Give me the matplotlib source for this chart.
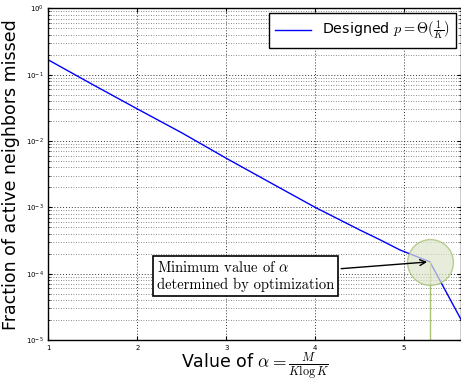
import matplotlib
matplotlib.use("Agg")
import matplotlib.pyplot as plt
from matplotlib.ticker import LogLocator, NullFormatter

alpha = [1.0, 1.5, 2.0, 2.5, 3.0, 3.5, 4.0, 4.5, 4.73, 4.95, 5.29, 5.64]
missed = [0.167, 0.0708, 0.0305, 0.0133, 0.0055, 0.00234, 0.001,
          0.000457, 0.000324, 0.000229, 0.000151, 2.04e-5]
opt_alpha = 5.29
opt_missed = 0.000151

plt.rcParams["mathtext.fontset"] = "cm"

fig = plt.figure(figsize=(4.61, 3.82), dpi=100)
ax = fig.add_axes([0.105, 0.110, 0.895, 0.868])

ax.plot(alpha, missed, color="blue", lw=1.0,
        label=r"Designed $p=\Theta(\frac{1}{K})$")
ax.set_yscale("log")
ax.set_xlim(1, 5.64)
ax.set_ylim(1e-5, 1)

ax.yaxis.set_major_locator(LogLocator(base=10, numticks=10))
ax.yaxis.set_minor_locator(LogLocator(base=10, subs=range(2, 10), numticks=20))
ax.yaxis.set_minor_formatter(NullFormatter())
ax.set_xticks([1, 2, 3, 4, 5])
ax.tick_params(axis="both", which="both", direction="in", labelsize=5,
               top=True, right=True)
ax.tick_params(axis="both", which="major", length=3)
ax.tick_params(axis="y", which="minor", length=1.5)

grid_ls = (0, (1, 2))
ax.grid(True, which="major", ls=grid_ls, color="0.2", lw=0.7)
ax.grid(True, axis="y", which="minor", ls=grid_ls, color="0.4", lw=0.6)
for s in ax.spines.values():
    s.set_linewidth(1.0)

# highlight of the optimum
ax.plot([opt_alpha, opt_alpha], [1e-5, opt_missed], color="#a8c27a", lw=1.0)
ax.plot([opt_alpha], [opt_missed], "o", ms=33, mfc="#dfe6cc", mec="#9fbb68",
        mew=1.0, alpha=0.7, zorder=3)

ax.annotate("Minimum value of $\\alpha$\ndetermined by optimization",
            xy=(opt_alpha, opt_missed), xycoords="data",
            xytext=(2.22, 9.2e-5), textcoords="data",
            fontsize=10.5, family="cmr10", ha="left", va="center",
            linespacing=1.3,
            bbox=dict(boxstyle="square,pad=0.25", fc="white", ec="black", lw=1.2),
            arrowprops=dict(arrowstyle="->", color="black", lw=1.0))

ax.set_xlabel(r"Value of $\alpha=\frac{M}{K\log K}$", fontsize=12.5, labelpad=0)
ax.set_ylabel("Fraction of active neighbors missed", fontsize=12.5, labelpad=4)

leg = ax.legend(loc="upper right", fontsize=10.3, fancybox=False,
                edgecolor="black", framealpha=1, handlelength=2.5,
                borderaxespad=0.35)
leg.get_frame().set_linewidth(1.0)

fig.savefig("out.png", dpi=100)
